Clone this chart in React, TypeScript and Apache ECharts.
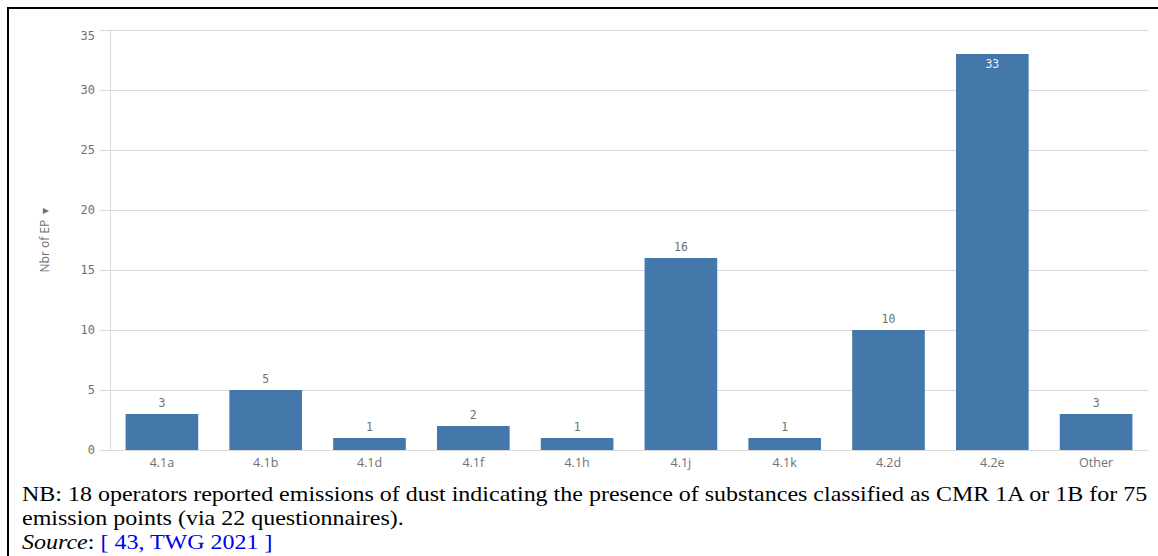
import React, { useEffect, useRef } from "react";
import * as echarts from "echarts";

const categories = ["4.1a", "4.1b", "4.1d", "4.1f", "4.1h", "4.1j", "4.1k", "4.2d", "4.2e", "Other"];
const values = [3, 5, 1, 2, 1, 16, 1, 10, 33, 3];
const yAxisName = "Nbr of EP  \u25BE";
const captionLine1 =
  "NB: 18 operators reported emissions of dust indicating the presence of substances classified as CMR 1A or 1B for 75";
const captionLine2 = "emission points (via 22 questionnaires).";
const sourceRef = "[ 43, TWG 2021 ]";

export default function App() {
  const ref = useRef<HTMLDivElement>(null);
  useEffect(() => {
    if (!ref.current) return;
    const chart = echarts.init(ref.current, null, { renderer: "svg" });
    const numFont = "DejaVu Sans Mono";
    const capScale = 1.2;
    chart.setOption({
      animation: false,
      backgroundColor: "#ffffff",
      grid: { left: 110, right: 10, top: 30, bottom: 106 },
      xAxis: {
        type: "category",
        data: categories,
        axisLine: { show: false },
        axisTick: { show: false },
        axisLabel: { color: "#707070", fontSize: 12.5, fontFamily: "Open Sans", margin: 6 },
      },
      yAxis: {
        type: "value",
        min: 0,
        max: 35,
        interval: 5,
        name: yAxisName,
        nameLocation: "middle",
        nameGap: 60,
        nameTextStyle: { color: "#707070", fontSize: 12, fontFamily: "Open Sans" },
        axisLine: { show: true, lineStyle: { color: "#d9d9d9" } },
        axisTick: { show: true, length: 10, lineStyle: { color: "#d9d9d9" } },
        axisLabel: {
          color: "#707070",
          fontSize: 12,
          fontFamily: numFont,
          margin: 15,
          verticalAlignMaxLabel: "top",
        },
        splitLine: { show: true, lineStyle: { color: "#d9d9d9" } },
      },
      series: [
        {
          type: "bar",
          data: values.map((v) => ({
            value: v,
            label:
              v >= 30
                ? { position: "insideTop", color: "#f0f0f0", distance: 4 }
                : { position: "top", color: "#707070", distance: 5 },
          })),
          barCategoryGap: "30%",
          itemStyle: { color: "#4477aa" },
          label: { show: true, fontSize: 11.5, fontFamily: numFont },
        },
      ],
      graphic: [
        {
          type: "rect",
          shape: { x: 8, y: 8, width: 1170, height: 560 },
          style: { fill: "none", stroke: "#000000", lineWidth: 2 },
          silent: true,
        },
        {
          type: "text",
          x: 22,
          y: 494,
          scaleX: capScale,
          style: {
            text: captionLine1,
            font: "20px 'Liberation Serif'",
            fill: "#000000",
            verticalAlign: "middle",
          },
        },
        {
          type: "text",
          x: 22,
          y: 518,
          scaleX: capScale,
          style: {
            text: captionLine2,
            font: "20px 'Liberation Serif'",
            fill: "#000000",
            verticalAlign: "middle",
          },
        },
        {
          type: "text",
          x: 22,
          y: 542,
          scaleX: capScale,
          style: {
            text: "{i|Source}{n|: }{l|" + sourceRef + "}",
            verticalAlign: "middle",
            rich: {
              i: { fontFamily: "Liberation Serif", fontSize: 20, fontStyle: "italic", fill: "#000000" },
              n: { fontFamily: "Liberation Serif", fontSize: 20, fill: "#000000" },
              l: { fontFamily: "Liberation Serif", fontSize: 20, fill: "#0000ee" },
            },
          },
        },
      ],
    });
    return () => chart.dispose();
  }, []);
  return (
    <div
      ref={ref}
      style={{ position: "fixed", left: 0, top: 0, width: 1158, height: 556 }}
    />
  );
}
